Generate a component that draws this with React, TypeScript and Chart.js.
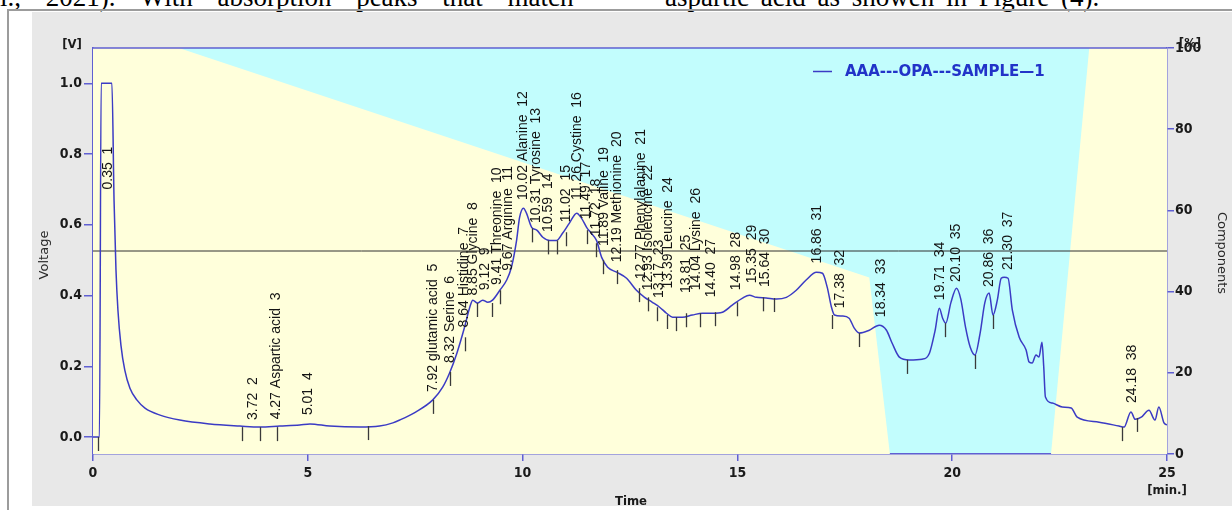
import React, { useEffect, useRef } from "react";
import { Chart, registerables } from "chart.js";

Chart.register(...registerables);

// ---- chromatogram trace (time in min, signal in V) ----
const traceTime = [
  0, 0.15, 0.19, 0.44, 0.49, 0.535, 0.58, 0.65, 0.74, 0.86, 1.02, 1.21, 1.56, 2.02, 2.72, 3.42, 3.88,
  4.35, 4.81, 5.05, 5.51, 6.21, 6.67, 6.98, 7.14, 7.5, 7.91, 8.14, 8.3, 8.47, 8.65, 8.77, 8.84, 8.95,
  9.07, 9.19, 9.3, 9.47, 9.63, 9.74, 9.86, 9.93, 10.02, 10.09, 10.21, 10.33, 10.47, 10.63, 10.79,
  10.93, 11.09, 11.26, 11.37, 11.49, 11.6, 11.72, 11.84, 11.98, 12.19, 12.42, 12.65, 12.84, 13.02,
  13.19, 13.35, 13.49, 13.72, 13.95, 14.19, 14.42, 14.65, 14.88, 15.12, 15.28, 15.44, 15.67, 15.91,
  16.14, 16.37, 16.6, 16.84, 16.98, 17.09, 17.19, 17.26, 17.44, 17.6, 17.72, 17.84, 18.07, 18.3,
  18.47, 18.6, 18.77, 19.0, 19.3, 19.47, 19.6, 19.7, 19.78, 19.85, 19.97, 20.1, 20.2, 20.31, 20.42,
  20.53, 20.65, 20.76, 20.86, 20.95, 21.05, 21.14, 21.21, 21.3, 21.4, 21.56, 21.72, 21.79, 21.86,
  21.95, 22.02, 22.09, 22.13, 22.17, 22.33, 22.56, 22.77, 22.91, 23.42, 23.88, 24.0, 24.16, 24.26,
  24.4, 24.58, 24.72, 24.81, 24.93, 25.0,
];
const traceVolt = [
  0, 0, 1.0, 1.0, 0.669, 0.472, 0.359, 0.26, 0.189, 0.138, 0.105, 0.082, 0.062, 0.048, 0.037, 0.031,
  0.028, 0.031, 0.034, 0.037, 0.031, 0.028, 0.031, 0.04, 0.048, 0.07, 0.105, 0.141, 0.181, 0.237,
  0.311, 0.367, 0.387, 0.379, 0.387, 0.381, 0.387, 0.415, 0.444, 0.48, 0.556, 0.621, 0.647, 0.633,
  0.593, 0.585, 0.565, 0.556, 0.556, 0.576, 0.605, 0.633, 0.619, 0.593, 0.576, 0.556, 0.508, 0.48,
  0.466, 0.449, 0.415, 0.395, 0.381, 0.367, 0.35, 0.339, 0.339, 0.345, 0.35, 0.35, 0.353, 0.373,
  0.393, 0.401, 0.395, 0.393, 0.39, 0.395, 0.415, 0.444, 0.466, 0.463, 0.424, 0.367, 0.345, 0.342,
  0.336, 0.308, 0.294, 0.302, 0.316, 0.302, 0.266, 0.226, 0.218, 0.22, 0.237, 0.3, 0.364, 0.335,
  0.322, 0.38, 0.421, 0.39, 0.311, 0.254, 0.232, 0.294, 0.38, 0.407, 0.345, 0.387, 0.449, 0.452,
  0.449, 0.359, 0.282, 0.246, 0.212, 0.209, 0.232, 0.226, 0.268, 0.2, 0.113, 0.096, 0.085, 0.082,
  0.056, 0.042, 0.031, 0.028, 0.071, 0.05, 0.056, 0.076, 0.048, 0.085, 0.04, 0.034,
];

// ---- gradient programme (right axis, %) ----
const gradientTime = [0, 2.0, 18.07, 18.55, 22.3, 23.19, 25];
const gradientPct = [100, 100, 43.5, 0, 0, 100, 100];
const referencePct = 50;

// ---- peak annotations ----
const peakTimes = [
  0.35, 3.72, 4.27, 5.01, 7.92, 8.32, 8.64, 8.85, 9.12, 9.41, 9.67, 10.02, 10.31, 10.59, 11.02,
  11.26, 11.49, 11.72, 11.89, 12.19, 12.77, 12.93, 13.17, 13.39, 13.81, 14.04, 14.4, 14.98, 15.35,
  15.64, 16.86, 17.38, 18.34, 19.71, 20.1, 20.86, 21.3, 24.18,
];
const peakNames = [
  "", "", "Aspartic acid", "", "glutamic acid", "Serine", "Histidine", "Glycine", "", "Threonine",
  "Arginine", "Alanine", "Tyrosine", "", "", "Cystine", "", "", "Valine", "Methionine",
  "Phenylalanine", "Isoleucine", "", "Leucine", "", "Lysine", "", "", "", "", "", "", "", "", "", "",
  "", "",
];
const peakNumbers = [
  1, 2, 3, 4, 5, 6, 7, 8, 9, 10, 11, 12, 13, 14, 15, 16, 17, 18, 19, 20, 21, 22, 23, 24, 25, 26, 27,
  28, 29, 30, 31, 32, 33, 34, 35, 36, 37, 38,
];
const labelBaseVolt = [
  0.7, 0.048, 0.05, 0.062, 0.127, 0.209, 0.31, 0.4, 0.415, 0.43, 0.47, 0.67, 0.605, 0.58, 0.607,
  0.67, 0.616, 0.568, 0.54, 0.494, 0.446, 0.415, 0.393, 0.42, 0.407, 0.415, 0.395, 0.415, 0.435,
  0.424, 0.491, 0.364, 0.339, 0.387, 0.438, 0.424, 0.472, 0.096,
];

// ---- integration boundary marks ----
const markTimes = [
  0.12, 3.47, 3.88, 4.28, 6.4, 7.91, 8.3, 8.65, 8.95, 9.28, 9.47, 10.23, 10.58, 10.79, 11.02, 11.49,
  11.72, 11.86, 12.19, 12.72, 12.91, 13.14, 13.37, 13.56, 13.81, 14.12, 14.47, 14.98, 15.6, 15.86,
  17.21, 17.84, 18.95, 19.84, 20.53, 20.95, 23.95, 24.3,
];
const markVolt = [
  0, 0.028, 0.028, 0.028, 0.031, 0.105, 0.184, 0.282, 0.379, 0.379, 0.415, 0.59, 0.556, 0.556,
  0.579, 0.585, 0.548, 0.5, 0.472, 0.421, 0.395, 0.367, 0.345, 0.339, 0.35, 0.35, 0.353, 0.381,
  0.395, 0.393, 0.345, 0.294, 0.218, 0.322, 0.232, 0.345, 0.028, 0.054,
];

// ---- axes ----
const xTicks = [0, 5, 10, 15, 20, 25];
const yTicks = [0, 0.2, 0.4, 0.6, 0.8, 1.0];
const y1Ticks = [0, 20, 40, 60, 80, 100];
const seriesName = "AAA---OPA---SAMPLE\u20141";

const AXIS_BLUE = "#5f5fd2";
const TRACE_BLUE = "#3b3bc4";
const YELLOW = "#ffffdb";
const CYAN = "#c2fdfd";
const TICK_FONT = '"DejaVu Sans Condensed", "DejaVu Sans", sans-serif';

const decorPlugin = {
  id: "decor",
  beforeDraw(chart: any) {
    const { ctx, chartArea: a } = chart;
    ctx.save();
    ctx.fillStyle = CYAN;
    ctx.fillRect(a.left, a.top, a.right - a.left, a.bottom - a.top);
    ctx.restore();
  },
  afterDatasetsDraw(chart: any) {
    const { ctx, chartArea: a, scales } = chart;
    const xs = scales.x;
    const ys = scales.y;
    ctx.save();
    // boundary marks
    ctx.strokeStyle = "#3a3a3a";
    ctx.lineWidth = 1.3;
    markTimes.forEach((t, i) => {
      const px = Math.round(xs.getPixelForValue(t)) + 0.5;
      const py = ys.getPixelForValue(markVolt[i]);
      ctx.beginPath();
      ctx.moveTo(px, py);
      ctx.lineTo(px, py + 14);
      ctx.stroke();
    });
    // peak labels
    ctx.fillStyle = "#141414";
    ctx.font = '14px "Liberation Sans", Arial, sans-serif';
    ctx.textAlign = "left";
    ctx.textBaseline = "middle";
    peakTimes.forEach((t, i) => {
      const name = peakNames[i];
      const text = `${t.toFixed(2)} ${name ? name + " " : ""} ${peakNumbers[i]}`;
      const px = xs.getPixelForValue(t);
      const py = ys.getPixelForValue(labelBaseVolt[i]);
      ctx.save();
      ctx.translate(px, py);
      ctx.rotate(-Math.PI / 2);
      ctx.fillText(text, 0, 0);
      ctx.restore();
    });
    // top frame line
    ctx.strokeStyle = AXIS_BLUE;
    ctx.lineWidth = 1.5;
    ctx.beginPath();
    ctx.moveTo(a.left, a.top);
    ctx.lineTo(a.right, a.top);
    ctx.stroke();
    ctx.restore();
  },
  afterDraw(chart: any) {
    const { ctx, chartArea: a } = chart;
    ctx.save();
    // legend
    ctx.strokeStyle = TRACE_BLUE;
    ctx.lineWidth = 1.5;
    ctx.beginPath();
    ctx.moveTo(813, 71.5);
    ctx.lineTo(832, 71.5);
    ctx.stroke();
    ctx.fillStyle = "#2233c8";
    ctx.font = 'bold 15px "DejaVu Sans", sans-serif';
    ctx.textAlign = "left";
    ctx.textBaseline = "middle";
    ctx.fillText(seriesName, 845, 72, 200);

    ctx.fillStyle = "#1a1a1a";
    ctx.textAlign = "center";
    ctx.font = `bold 13px ${TICK_FONT}`;
    ctx.fillText("[V]", 72, 45);
    ctx.fillText("[%]", 1190, 44);
    ctx.fillText("Time", (a.left + a.right) / 2 + 1, 502);
    ctx.fillText("[min.]", 1167, 491);

    ctx.font = '13px "DejaVu Sans", sans-serif';
    ctx.fillStyle = "#2a2a2a";
    ctx.save();
    ctx.translate(45, 255);
    ctx.rotate(-Math.PI / 2);
    ctx.fillText("Voltage", 0, 0);
    ctx.restore();
    ctx.save();
    ctx.translate(1221, 253);
    ctx.rotate(Math.PI / 2);
    ctx.fillText("Components", 0, 0);
    ctx.restore();
    ctx.restore();
  },
};

export default function App() {
  const canvasRef = useRef<HTMLCanvasElement | null>(null);

  useEffect(() => {
    const canvas = canvasRef.current;
    if (!canvas) return;
    const tickFont = { family: TICK_FONT, weight: "bold" as const, size: 14 };
    const chart = new Chart(canvas, {
      type: "line",
      data: {
        datasets: [
          {
            label: seriesName,
            data: traceTime.map((t, i) => ({ x: t, y: traceVolt[i] })),
            yAxisID: "y",
            borderColor: TRACE_BLUE,
            borderWidth: 1.5,
            pointRadius: 0,
            cubicInterpolationMode: "monotone",
            fill: false,
            order: 1,
          },
          {
            label: "reference",
            data: [
              { x: 0, y: referencePct },
              { x: 25, y: referencePct },
            ],
            yAxisID: "y1",
            borderColor: "#303030",
            borderWidth: 1,
            pointRadius: 0,
            fill: false,
            order: 2,
          },
          {
            label: "gradient",
            data: gradientTime.map((t, i) => ({ x: t, y: gradientPct[i] })),
            yAxisID: "y1",
            borderWidth: 0,
            borderColor: "rgba(0,0,0,0)",
            backgroundColor: YELLOW,
            pointRadius: 0,
            fill: "start",
            tension: 0,
            order: 3,
          },
        ],
      },
      options: {
        animation: false,
        responsive: false,
        devicePixelRatio: 1,
        layout: { padding: { top: 48, left: 0, right: 0, bottom: 0 } },
        plugins: { legend: { display: false }, tooltip: { enabled: false } },
        scales: {
          x: {
            type: "linear",
            min: 0,
            max: 25,
            afterFit: (s: any) => {
              s.height = 56;
            },
            afterBuildTicks: (s: any) => {
              s.ticks = xTicks.map((v) => ({ value: v }));
            },
            ticks: {
              color: "#1a1a1a",
              font: tickFont,
              padding: 4,
              maxRotation: 0,
              autoSkip: false,
              callback: (v: any) => String(v),
            },
            grid: { drawOnChartArea: false, tickLength: 7, color: AXIS_BLUE, lineWidth: 1.5 },
            border: { display: true, color: AXIS_BLUE, width: 1.5 },
          },
          y: {
            type: "linear",
            position: "left",
            min: -0.048,
            max: 1.1,
            afterFit: (s: any) => {
              s.width = 93;
            },
            afterBuildTicks: (s: any) => {
              s.ticks = yTicks.map((v) => ({ value: v }));
            },
            ticks: {
              color: "#1a1a1a",
              font: tickFont,
              padding: 2,
              autoSkip: false,
              callback: (v: any) => Number(v).toFixed(1),
            },
            grid: { drawOnChartArea: false, tickLength: 9, color: AXIS_BLUE, lineWidth: 1.5 },
            border: { display: true, color: AXIS_BLUE, width: 1.5 },
          },
          y1: {
            type: "linear",
            position: "right",
            min: 0,
            max: 100,
            afterFit: (s: any) => {
              s.width = 65;
            },
            afterBuildTicks: (s: any) => {
              s.ticks = y1Ticks.map((v) => ({ value: v }));
            },
            ticks: {
              color: "#1a1a1a",
              font: tickFont,
              padding: 1,
              autoSkip: false,
              callback: (v: any) => String(v),
            },
            grid: { drawOnChartArea: false, tickLength: 7, color: AXIS_BLUE, lineWidth: 1.5 },
            border: { display: true, color: AXIS_BLUE, width: 1.5 },
          },
        },
      },
      plugins: [decorPlugin],
    } as any);
    return () => chart.destroy();
  }, []);

  const serif = '"Liberation Serif", "Times New Roman", serif';
  return (
    <div
      style={{
        position: "fixed",
        left: 0,
        top: 0,
        width: 1232,
        height: 510,
        background: "#ffffff",
        overflow: "hidden",
      }}
    >
      <div
        style={{
          position: "absolute",
          left: -12,
          top: -16,
          font: `27px ${serif}`,
          lineHeight: 1,
          whiteSpace: "nowrap",
          wordSpacing: 18,
          color: "#000",
        }}
      >
        al., 2021). With absorption peaks that match
      </div>
      <div
        style={{
          position: "absolute",
          left: 665,
          top: -16,
          font: `27px ${serif}`,
          lineHeight: 1,
          whiteSpace: "nowrap",
          wordSpacing: 5,
          color: "#000",
        }}
      >
        aspartic acid as showen in Figure (4).
      </div>
      <div
        style={{
          position: "absolute",
          left: 7,
          top: 9,
          width: 1240,
          height: 520,
          borderTop: "2px solid #9c9c9c",
          borderLeft: "2px solid #9c9c9c",
        }}
      />
      <div
        style={{
          position: "absolute",
          left: 32,
          top: 12,
          width: 1200,
          height: 494,
          background: "#e8e8e8",
        }}
      />
      <canvas
        ref={canvasRef}
        width={1232}
        height={510}
        style={{ position: "absolute", left: 0, top: 0, width: 1232, height: 510 }}
      />
    </div>
  );
}
